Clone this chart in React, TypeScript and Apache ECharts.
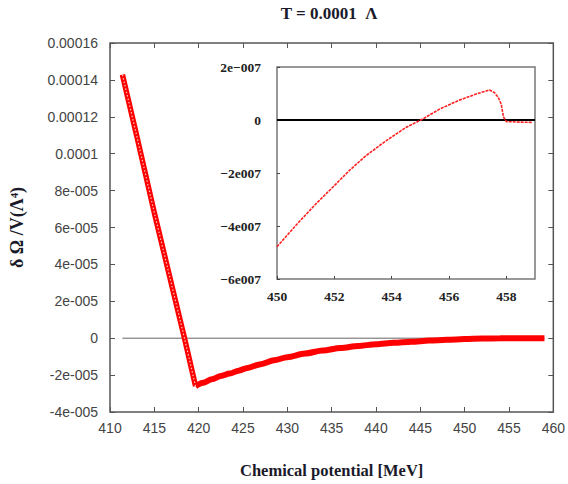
import React, { useEffect, useRef } from "react";
import * as echarts from "echarts";

// Main plot: steep descending branch (MeV, δΩ/V)
const fallX = [411.4, 413.0, 415.0, 417.0, 418.4, 419.65];
const fallY = [1.428e-4, 1.1e-4, 0.68e-4, 0.28e-4, 0.0, -2.6e-5];

// Main plot: rising branch approaching zero
const riseX = [419.65, 420.5, 421.5, 422.5, 423.5, 424.5, 425.5, 427, 428.5, 430, 432, 434, 436, 438, 440, 442, 444, 446, 448, 450, 452, 454, 456, 458, 459];
const riseY = [
  -2.6e-5, -2.42e-5, -2.22e-5, -2.05e-5, -1.92e-5, -1.76e-5, -1.61e-5, -1.41e-5, -1.2e-5, -1.03e-5,
  -0.83e-5, -0.67e-5, -0.53e-5, -0.42e-5, -0.33e-5, -0.25e-5, -0.19e-5, -0.13e-5, -0.09e-5, -0.05e-5,
  -0.02e-5, -0.005e-5, 0.003e-5, 0.0, 0.0,
];

// Inset
const insetX = [450, 450.67, 451.37, 451.95, 452.53, 453.11, 453.81, 454.5, 455.09, 455.67, 456.36, 456.95, 457.25, 457.41, 457.58, 457.72, 457.82, 457.9, 458.0, 458.5, 458.9];
const insetY = [-4.78e-7, -3.96e-7, -3.15e-7, -2.53e-7, -1.9e-7, -1.34e-7, -0.78e-7, -0.28e-7, 0.04e-7, 0.41e-7, 0.75e-7, 0.98e-7, 1.08e-7, 1.13e-7, 1.04e-7, 0.85e-7, 0.6e-7, 0.12e-7, -0.06e-7, -0.08e-7, -0.09e-7];

// Tick labels
const mainYTicks = ["-4e-005", "-2e-005", "0", "2e-005", "4e-005", "6e-005", "8e-005", "0.0001", "0.00012", "0.00014", "0.00016"];
const insetYTicks = ["\u22126e007", "\u22124e007", "\u22122e007", "0", "2e\u2212007"];

const titleText = "T = 0.0001  \u039b";
const xName = "Chemical potential [MeV]";
const yName = "\u03b4 \u03a9 /V(\u039b\u2074)";

const zip = (a: number[], b: number[]) => a.map((v, i) => [v, b[i]]);

export default function App() {
  const ref = useRef<HTMLDivElement>(null);
  useEffect(() => {
    document.body.style.margin = "0";
    if (!ref.current) return;
    const chart = echarts.init(ref.current, undefined, { renderer: "svg" });
    const frame = "#555";
    const sans = "Liberation Sans";
    const serif = "Liberation Serif";
    const hiddenLabel = { show: false };
    chart.setOption({
      animation: false,
      backgroundColor: "#fff",
      graphic: [
        {
          type: "text",
          x: 329,
          y: 13,
          style: {
            text: titleText,
            textAlign: "center",
            textVerticalAlign: "middle",
            font: `bold 17px "${serif}"`,
            fill: "#1a1a2a",
          },
        },
      ],
      grid: [
        { left: 110, top: 43, width: 446, height: 373, show: true, borderColor: frame, borderWidth: 1.5, backgroundColor: "#fff" },
        { left: 277, top: 67, width: 258, height: 212, show: true, borderColor: "#777", borderWidth: 1.5, backgroundColor: "#fff", z: 5 },
      ],
      xAxis: [
        {
          gridIndex: 0, type: "value", min: 410, max: 460, interval: 5, position: "bottom",
          axisLine: { show: false, onZero: false },
          axisTick: { inside: true, length: 5, lineStyle: { color: frame } },
          axisLabel: { color: "#444", fontSize: 14, fontFamily: sans, margin: 9 },
          splitLine: { show: false },
          name: xName, nameLocation: "middle", nameGap: 50,
          nameTextStyle: { fontFamily: serif, fontWeight: "bold", fontSize: 16.5, color: "#1a1a2a" },
        },
        {
          gridIndex: 0, type: "value", min: 410, max: 460, interval: 5, position: "top",
          axisLine: { show: false, onZero: false },
          axisTick: { inside: true, length: 5, lineStyle: { color: frame } },
          axisLabel: hiddenLabel, splitLine: { show: false },
        },
        {
          gridIndex: 1, type: "value", min: 450, max: 459, interval: 2, position: "bottom",
          axisLine: { show: false, onZero: false },
          axisTick: { inside: true, length: 3, lineStyle: { color: "#444" } },
          axisLabel: { color: "#222", fontSize: 13.5, fontFamily: serif, fontWeight: "bold", margin: 10, showMaxLabel: false },
          splitLine: { show: false }, z: 6,
        },
      ],
      yAxis: [
        {
          gridIndex: 0, type: "value", min: -4e-5, max: 1.6e-4, interval: 2e-5, position: "left",
          axisLine: { show: false, onZero: false },
          axisTick: { inside: true, length: 5, lineStyle: { color: frame } },
          axisLabel: {
            color: "#444", fontSize: 14, fontFamily: sans, margin: 12,
            formatter: (v: number) => mainYTicks[Math.round((v + 4e-5) / 2e-5)] ?? "",
          },
          splitLine: { show: false },
          name: yName, nameLocation: "middle", nameGap: 84,
          nameTextStyle: { fontFamily: serif, fontWeight: "bold", fontSize: 18, color: "#1a1a2a" },
        },
        {
          gridIndex: 0, type: "value", min: -4e-5, max: 1.6e-4, interval: 2e-5, position: "right",
          axisLine: { show: false, onZero: false },
          axisTick: { inside: true, length: 5, lineStyle: { color: frame } },
          axisLabel: hiddenLabel, splitLine: { show: false },
        },
        {
          gridIndex: 1, type: "value", min: -6e-7, max: 2e-7, interval: 2e-7, position: "left",
          axisLine: { show: false, onZero: false },
          axisTick: { inside: true, length: 3, lineStyle: { color: "#444" } },
          axisLabel: {
            color: "#222", fontSize: 13.5, fontFamily: serif, fontWeight: "bold", margin: 16,
            formatter: (v: number) => insetYTicks[Math.round((v + 6e-7) / 2e-7)] ?? "",
          },
          splitLine: { show: false }, z: 6,
        },
      ],
      series: [
        {
          type: "line", xAxisIndex: 0, yAxisIndex: 0, symbol: "none", silent: true,
          data: [[fallX[0], 0], [riseX[riseX.length - 1], 0]],
          lineStyle: { color: "#666", width: 1 }, z: 1,
        },
        {
          type: "line", xAxisIndex: 0, yAxisIndex: 0, symbol: "none",
          data: zip(fallX, fallY),
          lineStyle: { color: "#ff0000", width: 5.5 }, z: 2,
        },
        {
          type: "line", xAxisIndex: 0, yAxisIndex: 0, symbol: "none",
          data: zip(fallX, fallY),
          lineStyle: { color: "#ffc4c4", width: 1.2, type: [1.5, 2] }, z: 3,
        },
        {
          type: "line", xAxisIndex: 0, yAxisIndex: 0, symbol: "none",
          smooth: 0.3, smoothMonotone: "x",
          data: zip(riseX, riseY),
          lineStyle: { color: "#ff0000", width: 6 }, z: 2,
        },
        {
          type: "line", xAxisIndex: 2, yAxisIndex: 2, symbol: "none",
          data: [[450, 0], [459, 0]],
          lineStyle: { color: "#000", width: 2 }, z: 6,
        },
        {
          type: "line", xAxisIndex: 2, yAxisIndex: 2, symbol: "none",
          data: zip(insetX, insetY),
          lineStyle: { color: "#ff2020", width: 1.6, type: [3, 1] }, z: 7,
        },
      ],
    });
    return () => chart.dispose();
  }, []);
  return <div ref={ref} style={{ width: 568, height: 484 }} />;
}
